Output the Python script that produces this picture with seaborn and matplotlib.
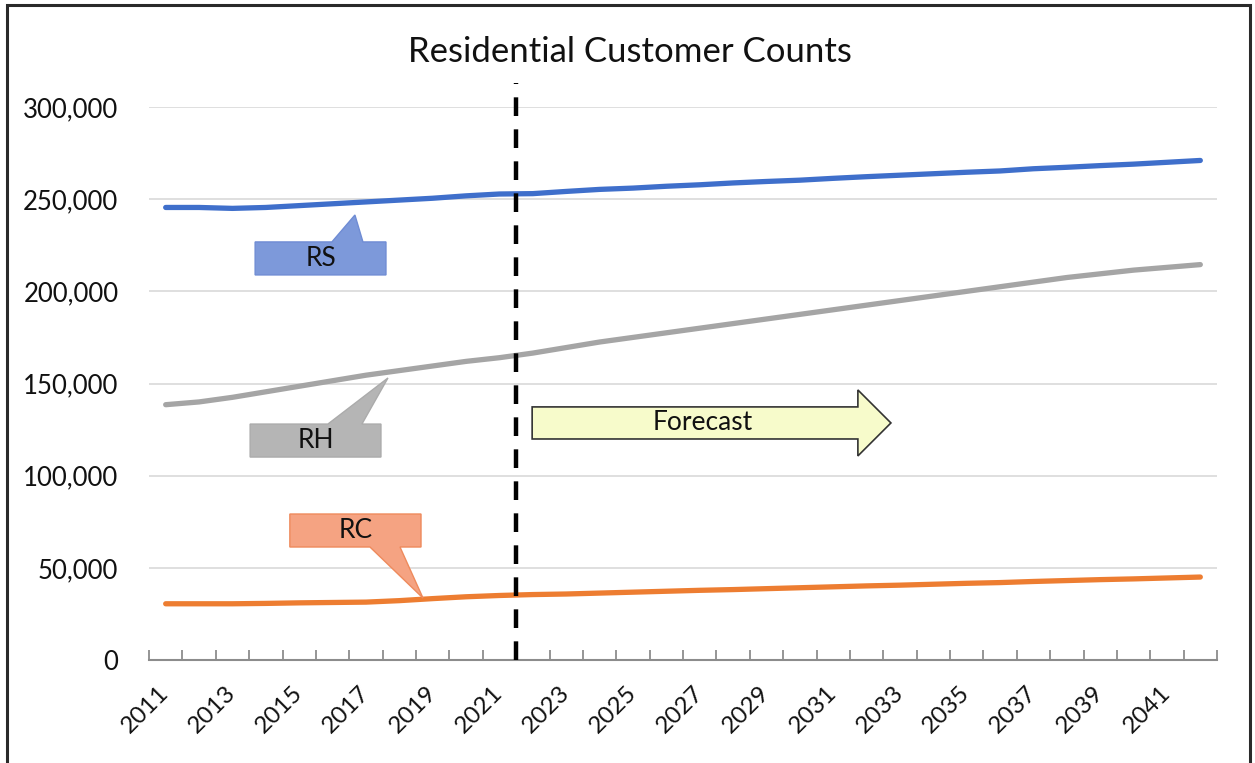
import pandas as pd
import matplotlib.pyplot as plt
import seaborn as sns
from matplotlib.patches import Polygon, FancyArrow, Rectangle
from matplotlib.ticker import FuncFormatter, MultipleLocator

import matplotlib
matplotlib.use('Agg')

# --- data ---
years = list(range(2011, 2043))
rs = [245500, 245500, 245000, 245500, 246500, 247500, 248500, 249500, 250500, 251800,
      252800, 253000, 254200, 255300, 256000, 257000, 257800, 258800, 259600, 260300,
      261300, 262200, 263000, 263800, 264600, 265300, 266500, 267300, 268200, 269000,
      270000, 271000]
rh = [138500, 140000, 142500, 145500, 148500, 151500, 154500, 157000, 159500, 162000,
      164000, 166500, 169500, 172500, 175000, 177500, 180000, 182500, 185000, 187500,
      190000, 192500, 195000, 197500, 200000, 202500, 205000, 207500, 209500, 211500,
      213000, 214500]
rc = [30500, 30500, 30500, 30700, 31000, 31200, 31400, 32200, 33300, 34300,
      35000, 35500, 35800, 36300, 36800, 37300, 37800, 38200, 38700, 39200,
      39700, 40200, 40600, 41100, 41600, 42000, 42600, 43100, 43600, 44000,
      44500, 45000]
series_names = ['RS', 'RH', 'RC']
series_colors = {'RS': '#3F6FCB', 'RH': '#A5A5A5', 'RC': '#ED7D31'}
last_actual = 2021

df = pd.DataFrame({'Year': years * 3,
                   'Customers': rs + rh + rc,
                   'Class': [n for n in series_names for _ in years]})

sns.set_style('white')
plt.rcParams['font.family'] = ['Lato', 'DejaVu Sans']

fig = plt.figure(figsize=(12.55, 7.63), dpi=100)
ax = fig.add_axes([149 / 1255, 1 - 660 / 763, (1217 - 149) / 1255, (660 - 107) / 763])

sns.lineplot(data=df, x='Year', y='Customers', hue='Class', palette=series_colors,
             linewidth=3.8, legend=False, ax=ax, zorder=3)

ax.set_xlim(years[0] - 0.5, years[-1] + 0.5)
ax.set_ylim(0, 300000)
ax.yaxis.set_major_locator(MultipleLocator(50000))
ax.yaxis.set_major_formatter(FuncFormatter(lambda v, p: f'{int(v):,}'))
ax.grid(axis='y', color='#D9D9D9', linewidth=1.2)
ax.set_axisbelow(True)
for s in ['top', 'right', 'left']:
    ax.spines[s].set_visible(False)
ax.spines['bottom'].set_color('#8C8C8C')
ax.spines['bottom'].set_linewidth(1.5)
ax.set_xlabel('')
ax.set_ylabel('')

ax.set_xticks(years[::2])
ax.set_xticklabels([str(y) for y in years[::2]], rotation=45, ha='right',
                   va='center', rotation_mode='anchor')
ax.set_xticks([y - 0.5 for y in years] + [years[-1] + 0.5], minor=True)
ax.tick_params(axis='x', which='both', bottom=True)
ax.tick_params(axis='x', which='major', length=0, pad=21, labelsize=17.5, labelcolor='#111111')
ax.tick_params(axis='x', which='minor', length=7, width=1.3, color='#8C8C8C', direction='in')
ax.tick_params(axis='y', length=0, pad=22, labelsize=18.5, labelcolor='#111111')

fig.text(630 / 1255, 1 - 52 / 763, 'Residential Customer Counts', ha='center', va='center',
         fontsize=25, color='#111111')

# forecast boundary
ax.plot([last_actual + 0.5] * 2, [0, 313000], color='black', linewidth=3.2,
        linestyle=(0, (4.2, 3.0)), clip_on=False, zorder=4)


def callout(x0, x1, y0, y1, bx0, bx1, tip, side, fill, edge, label):
    if side == 'top':
        pts = [(x0, y0), (x1, y0), (x1, y1), (bx1, y1), tip, (bx0, y1), (x0, y1)]
    else:
        pts = [(x0, y1), (x1, y1), (x1, y0), (bx1, y0), tip, (bx0, y0), (x0, y0)]
    ax.add_patch(Polygon(pts, closed=True, facecolor=fill, edgecolor=edge,
                         linewidth=1.0, zorder=5))
    ax.text((x0 + x1) / 2, (y0 + y1) / 2, label, ha='center', va='center',
            fontsize=19, color='#111111', zorder=6)


callout(2013.68, 2017.60, 208900, 226800, 2015.98, 2016.91, (2016.67, 241400), 'top',
        '#7D99DA', '#6F8CD4', 'RS')
callout(2013.53, 2017.45, 110100, 128000, 2015.86, 2016.88, (2017.66, 153000), 'top',
        '#B5B5B5', '#ABABAB', 'RH')
callout(2014.72, 2018.65, 61300, 79200, 2017.12, 2018.02, (2018.71, 33600), 'bottom',
        '#F5A382', '#EE8A5C', 'RC')

# forecast arrow
arrow_y = 128600
ax.add_patch(FancyArrow(2021.98, arrow_y, 2032.73 - 2021.98, 0, width=17400,
                        head_width=35800, head_length=0.99, length_includes_head=True,
                        facecolor='#F7FBCB', edgecolor='#333333', linewidth=1.2, zorder=5))
ax.text(2027.1, arrow_y, 'Forecast', ha='center', va='center', fontsize=19,
        color='#111111', zorder=6)

# outer frame
fig.patches.append(Rectangle((7 / 1255, -0.02), (1250 - 7) / 1255, 1 - 5 / 763 + 0.02,
                             transform=fig.transFigure, fill=False, edgecolor='#2A2A2A',
                             linewidth=2.2))

fig.savefig('out.png', dpi=100)
